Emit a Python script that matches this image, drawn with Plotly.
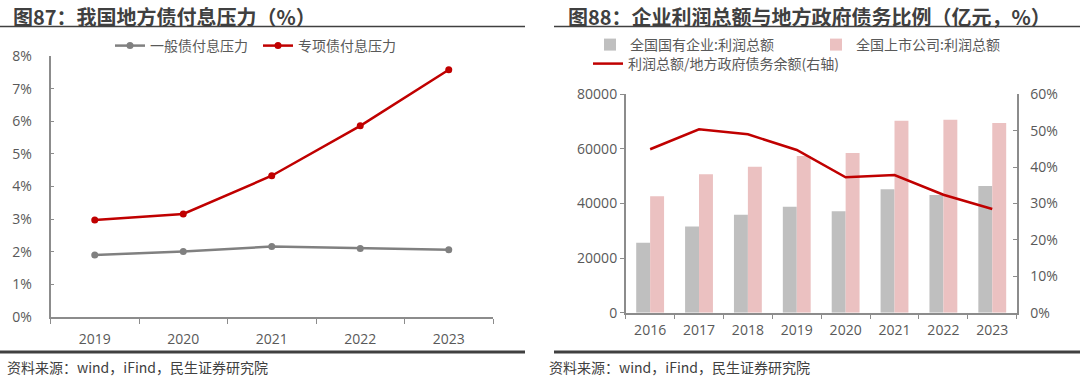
import plotly.graph_objects as go

# ---- data: left chart ----
years_l = ["2019", "2020", "2021", "2022", "2023"]
general_bond = [1.90, 2.01, 2.16, 2.10, 2.06]
special_bond = [2.97, 3.16, 4.33, 5.86, 7.58]

# ---- data: right chart ----
years_r = ["2016", "2017", "2018", "2019", "2020", "2021", "2022", "2023"]
soe_profit = [25600, 31600, 35900, 38800, 37200, 45200, 43100, 46400]
listed_profit = [42700, 50700, 53500, 57400, 58500, 70300, 70700, 69500]
profit_debt_ratio = [44.9, 50.4, 49.0, 44.7, 37.2, 37.8, 32.4, 28.5]

W, H = 1080, 391
CJK = "Noto Sans CJK SC"
TICKFONT = dict(family="Open Sans, " + CJK, size=14, color="#595959")
LEGFONT = dict(family=CJK, size=14, color="#595959")
AXCOL = "#8C8C8C"
RED = "#C00000"
GRAY = "#808080"


def px(x):
    return x / W


def py(y):
    return 1 - y / H


fig = go.Figure()

# left chart lines
fig.add_trace(go.Scatter(x=years_l, y=general_bond, name="一般债付息压力", mode="lines+markers",
                         line=dict(color=GRAY, width=2.5), marker=dict(size=7, color=GRAY),
                         xaxis="x", yaxis="y", legend="legend"))
fig.add_trace(go.Scatter(x=years_l, y=special_bond, name="专项债付息压力", mode="lines+markers",
                         line=dict(color=RED, width=2.5), marker=dict(size=7, color=RED),
                         xaxis="x", yaxis="y", legend="legend"))

# right chart bars + line
fig.add_trace(go.Bar(x=years_r, y=soe_profit, name="全国国有企业:利润总额",
                     marker=dict(color="#BFBFBF", line=dict(width=0)),
                     xaxis="x2", yaxis="y2", legend="legend2", offsetgroup="a"))
fig.add_trace(go.Bar(x=years_r, y=listed_profit, name="全国上市公司:利润总额",
                     marker=dict(color="#EBC1C1", line=dict(width=0)),
                     xaxis="x2", yaxis="y2", legend="legend2", offsetgroup="b"))
fig.add_trace(go.Scatter(x=years_r, y=profit_debt_ratio, name="利润总额/地方政府债务余额(右轴)", mode="lines",
                         line=dict(color=RED, width=2.5), xaxis="x2", yaxis="y3", legend="legend3"))

common_x = dict(type="category", showline=True, linecolor=AXCOL, linewidth=1.5, ticks="outside",
                tickson="boundaries", ticklen=5, tickcolor=AXCOL, tickfont=TICKFONT, showgrid=False,
                zeroline=False, fixedrange=True, automargin=False)
common_y = dict(showline=True, linecolor=AXCOL, linewidth=1.5, ticklen=4, tickcolor=AXCOL,
                tickfont=TICKFONT, showgrid=False, zeroline=False, fixedrange=True, automargin=False)

fig.update_layout(
    template="none",
    width=W, height=H,
    margin=dict(l=0, r=0, t=0, b=0, autoexpand=False),
    paper_bgcolor="white", plot_bgcolor="white",
    font=dict(family=CJK, color="#595959"),
    barmode="group", bargap=0.43, bargroupgap=0,
    xaxis=dict(domain=[px(50.5), px(493)], anchor="y", range=[-0.5, len(years_l) - 0.5],
               ticklabelstandoff=8, **common_x),
    yaxis=dict(domain=[py(317), py(56)], range=[0, 8], dtick=1, ticksuffix="%", ticks="inside",
               ticklabelstandoff=14, **common_y),
    xaxis2=dict(domain=[px(625.7), px(1016.7)], anchor="y2", range=[-0.5, len(years_r) - 0.5],
                ticklabelstandoff=4, **common_x),
    yaxis2=dict(domain=[py(312.7), py(94.3)], anchor="x2", range=[0, 80000], dtick=20000, tickformat="d",
                ticks="outside", **common_y),
    yaxis3=dict(domain=[py(312.7), py(94.3)], anchor="x2", overlaying="y2", side="right",
                range=[0, 60], dtick=10, ticksuffix="%", ticks="inside", ticklabelstandoff=9, **common_y),
    legend=dict(orientation="h", xref="container", yref="container", x=px(110), y=py(30),
                xanchor="left", yanchor="top", font=LEGFONT, bgcolor="rgba(0,0,0,0)",
                entrywidth=103, itemwidth=30, tracegroupgap=0),
    legend2=dict(orientation="h", xref="container", yref="container", x=px(590), y=py(29),
                 xanchor="left", yanchor="top", font=LEGFONT, bgcolor="rgba(0,0,0,0)",
                 entrywidth=181, itemwidth=30, tracegroupgap=0, traceorder="normal"),
    legend3=dict(orientation="h", xref="container", yref="container", x=px(588), y=py(48),
                 xanchor="left", yanchor="top", font=LEGFONT, bgcolor="rgba(0,0,0,0)",
                 itemwidth=30, tracegroupgap=0),
    showlegend=True,
)

# titles
fig.add_annotation(text="<b>图87：我国地方债付息压力（%）</b>", x=px(11), y=py(16), xref="paper", yref="paper",
                   xanchor="left", yanchor="middle", showarrow=False,
                   font=dict(family=CJK, size=20, color="#404040"))
fig.add_annotation(text="<b>图88：企业利润总额与地方政府债务比例（亿元，%）</b>", x=px(566), y=py(16),
                   xref="paper", yref="paper", xanchor="left", yanchor="middle", showarrow=False,
                   font=dict(family=CJK, size=20, color="#404040"))
# sources
for x0 in (5, 547):
    fig.add_annotation(text="资料来源：wind，iFind，民生证券研究院", x=px(x0), y=py(367), xref="paper", yref="paper",
                       xanchor="left", yanchor="middle", showarrow=False,
                       font=dict(family=CJK, size=14, color="#404040"))

# rules
for (a, b) in ((0, 525), (554, 1080)):
    fig.add_shape(type="line", xref="paper", yref="paper", x0=px(a), x1=px(b), y0=py(26.5), y1=py(26.5),
                  line=dict(color="#404040", width=1.5))
    fig.add_shape(type="line", xref="paper", yref="paper", x0=px(a), x1=px(b), y0=py(352), y1=py(352),
                  line=dict(color="#404040", width=3))

fig.write_html("out.html", config={"displayModeBar": False},
               post_script="document.body.style.margin='0';document.body.style.overflow='hidden';")
